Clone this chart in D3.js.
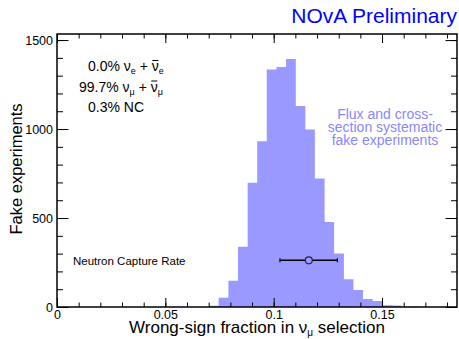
<!DOCTYPE html>
<html>
<head>
<meta charset="utf-8">
<script src="https://cdn.jsdelivr.net/npm/d3@7"></script>
<style>
  body { margin: 0; background: #fff; }
  svg text { font-family: "Liberation Sans", Arial, Helvetica, sans-serif; }
</style>
</head>
<body>
<div id="chart"></div>
<script>
// ---- data ----
// histogram bin edges (wrong-sign fraction) and fake-experiment counts
const binEdges = [0.0702, 0.0746, 0.0791, 0.0835, 0.0880, 0.0924, 0.0968, 0.1013,
                  0.1057, 0.1102, 0.1146, 0.1190, 0.1235, 0.1279, 0.1324, 0.1368,
                  0.1412, 0.1457, 0.1501, 0.1546, 0.1590, 0.1634, 0.1679];
const binCounts = [7, 52, 148, 338, 698, 932, 1335, 1349, 1393, 1130, 998,
                   722, 477, 301, 156, 96, 45, 34, 10, 9, 2, 3];

// neutron capture rate point with horizontal error bar
const ncrValue = [0.1162];
const ncrLow = [0.1029];
const ncrHigh = [0.1294];
const ncrHeight = [262];

const xTicks = [0, 0.05, 0.1, 0.15];
const xTickLabels = ["0", "0.05", "0.1", "0.15"];
const yTicks = [0, 500, 1000, 1500];
const yTickLabels = ["0", "500", "1000", "1500"];

const compLines = [
  { pct: "0.0%", flav: "e" },
  { pct: "99.7%", flav: "\u03bc" },
  { pct: "0.3%", flav: null }
];
const fluxLines = ["Flux and cross-", "section systematic", "fake experiments"];

// ---- layout ----
var width = 459, height = 339;
var pLeft = 57, pRight = 457, pTop = 34, pBottom = 307;
var histColor = "#9999ff";

var svg = d3.select("#chart").append("svg")
    .attr("width", width)
    .attr("height", height);

var x = d3.scaleLinear().domain([0, 0.1846]).range([pLeft, pRight]);
var y = d3.scaleLinear().domain([0, 1534]).range([pBottom, pTop]);

// histogram as one stepped area
var pts = binCounts.map((c, i) => [binEdges[i], c]);
pts.push([binEdges[binEdges.length - 1], binCounts[binCounts.length - 1]]);

var area = d3.area()
    .curve(d3.curveStepAfter)
    .x(d => x(d[0]))
    .y0(y(0))
    .y1(d => y(d[1]));

svg.append("path")
    .datum(pts)
    .attr("d", area)
    .attr("fill", histColor);

// ---- axes (ticks pointing inward, ROOT style) ----
var xMinor = d3.range(0, 0.1801, 0.01);
var yMinor = d3.range(0, 1501, 100);

function styleAxis(g) {
  g.selectAll("line").attr("stroke", "#000").attr("stroke-width", 1);
  g.select(".domain").remove();
}

// bottom
svg.append("g").attr("transform", "translate(0," + pBottom + ")")
  .call(d3.axisBottom(x).tickValues(xMinor).tickSize(-4.5).tickFormat(""))
  .call(styleAxis);
svg.append("g").attr("transform", "translate(0," + pBottom + ")")
  .call(d3.axisBottom(x).tickValues(xTicks).tickSize(-9).tickPadding(3)
        .tickFormat((d, i) => xTickLabels[i]))
  .call(styleAxis)
  .selectAll("text").attr("font-size", "12.5px").attr("fill", "#000");
// top
svg.append("g").attr("transform", "translate(0," + pTop + ")")
  .call(d3.axisTop(x).tickValues(xMinor).tickSize(-4.5).tickFormat(""))
  .call(styleAxis);
svg.append("g").attr("transform", "translate(0," + pTop + ")")
  .call(d3.axisTop(x).tickValues(xTicks).tickSize(-9).tickFormat(""))
  .call(styleAxis);
// left
svg.append("g").attr("transform", "translate(" + pLeft + ",0)")
  .call(d3.axisLeft(y).tickValues(yMinor).tickSize(-6).tickFormat(""))
  .call(styleAxis);
svg.append("g").attr("transform", "translate(" + pLeft + ",0)")
  .call(d3.axisLeft(y).tickValues(yTicks).tickSize(-11.5).tickPadding(4)
        .tickFormat((d, i) => yTickLabels[i]))
  .call(styleAxis)
  .selectAll("text").attr("font-size", "12.5px").attr("fill", "#000");
// right
svg.append("g").attr("transform", "translate(" + pRight + ",0)")
  .call(d3.axisRight(y).tickValues(yMinor).tickSize(-6).tickFormat(""))
  .call(styleAxis);
svg.append("g").attr("transform", "translate(" + pRight + ",0)")
  .call(d3.axisRight(y).tickValues(yTicks).tickSize(-11.5).tickFormat(""))
  .call(styleAxis);

// frame
svg.append("rect")
    .attr("x", pLeft).attr("y", pTop)
    .attr("width", pRight - pLeft).attr("height", pBottom - pTop)
    .attr("fill", "none").attr("stroke", "#000").attr("stroke-width", 1.5);

// ---- error bar point ----
var eb = svg.append("g");
ncrValue.forEach(function (v, i) {
  var cy = y(ncrHeight[i]);
  eb.append("line")
    .attr("x1", x(ncrLow[i])).attr("x2", x(ncrHigh[i]))
    .attr("y1", cy).attr("y2", cy)
    .attr("stroke", "#000").attr("stroke-width", 1.5);
  [ncrLow[i], ncrHigh[i]].forEach(function (e) {
    eb.append("line")
      .attr("x1", x(e)).attr("x2", x(e))
      .attr("y1", cy - 2).attr("y2", cy + 2)
      .attr("stroke", "#000").attr("stroke-width", 1.2);
  });
  eb.append("circle")
    .attr("cx", x(v)).attr("cy", cy).attr("r", 3.5)
    .attr("fill", histColor).attr("stroke", "#222244").attr("stroke-width", 1.2);
});

svg.append("text")
    .attr("x", 73).attr("y", 265)
    .attr("font-size", "11.5px")
    .text("Neutron Capture Rate");

// ---- titles ----
svg.append("text")
    .attr("x", 457).attr("y", 23)
    .attr("text-anchor", "end")
    .attr("font-size", "21px")
    .attr("fill", "#0000ff")
    .text("NOvA Preliminary");

svg.append("text")
    .attr("x", 257).attr("y", 333)
    .attr("text-anchor", "middle")
    .attr("font-size", "17px")
    .call(function (t) {
      t.append("tspan").text("Wrong-sign fraction in \u03bd");
      t.append("tspan").attr("font-size", "10px").attr("dy", 3).text("\u03bc");
      t.append("tspan").attr("dy", -3).text(" selection");
    });

svg.append("text")
    .attr("transform", "translate(22,169) rotate(-90)")
    .attr("text-anchor", "middle")
    .attr("font-size", "16.5px")
    .text("Fake experiments");

// ---- composition text (antineutrino bar drawn as a short line) ----
var compX = [88, 79, 88];
compLines.forEach(function (d, i) {
  var by = 71 + i * 20.5;
  var t = svg.append("text")
      .attr("x", compX[i]).attr("y", by)
      .attr("font-size", "14px");
  if (d.flav) {
    t.append("tspan").text(d.pct + " \u03bd");
    t.append("tspan").attr("font-size", "9px").attr("dy", 3).text(d.flav);
    t.append("tspan").attr("dy", -3).text(" + ");
    var nubar = t.append("tspan").text("\u03bd");
    t.append("tspan").attr("font-size", "9px").attr("dy", 3).text(d.flav);
    var bb = nubar.node().getExtentOfChar(0);
    svg.append("line")
      .attr("x1", bb.x + 0.5).attr("x2", bb.x + bb.width - 0.5)
      .attr("y1", by - 10.5).attr("y2", by - 10.5)
      .attr("stroke", "#000").attr("stroke-width", 1);
  } else {
    t.text(d.pct + " NC");
  }
});

// ---- flux systematic label ----
fluxLines.forEach(function (s, i) {
  svg.append("text")
    .attr("x", 385).attr("y", 118.5 + i * 13)
    .attr("text-anchor", "middle")
    .attr("font-size", "14px")
    .attr("fill", "#8888ff")
    .text(s);
});
</script>
</body>
</html>
